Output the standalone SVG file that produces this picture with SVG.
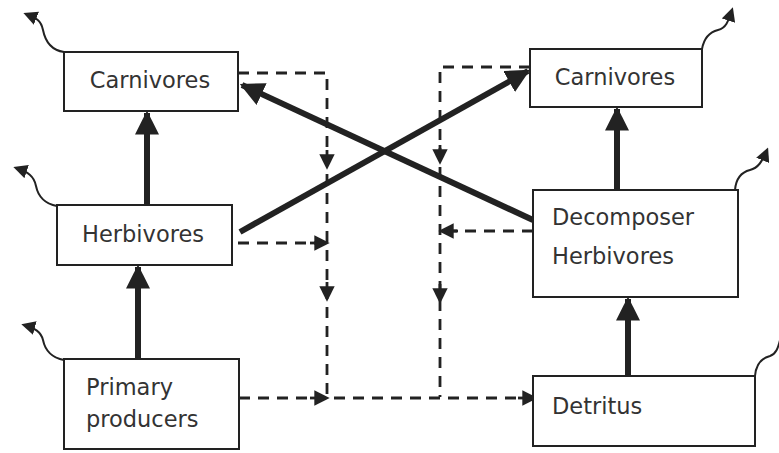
<svg xmlns="http://www.w3.org/2000/svg" width="779" height="453" viewBox="0 0 779 453">
<defs>
<marker id="big" viewBox="0 0 10 10" refX="9" refY="5" markerWidth="4" markerHeight="4" orient="auto" markerUnits="strokeWidth"><path d="M0,0 L10,5 L0,10 z" fill="#222"/></marker>
<marker id="dash" viewBox="0 0 10 10" refX="5" refY="5" markerWidth="5.5" markerHeight="5.5" orient="auto" markerUnits="strokeWidth"><path d="M0,0 L10,5 L0,10 z" fill="#222"/></marker>
<marker id="wave" viewBox="0 0 10 10" refX="8" refY="5" markerWidth="7" markerHeight="7" orient="auto" markerUnits="strokeWidth"><path d="M0,0 L10,5 L0,10 z" fill="#222"/></marker>
</defs>
<style>
.box{fill:#fff;stroke:#222;stroke-width:2}
text{font-family:"DejaVu Sans","Open Sans",sans-serif;font-size:22.5px;fill:#333}
.thick{stroke:#222;stroke-width:6;fill:none}
.dashed{stroke:#222;stroke-width:2.8;fill:none;stroke-dasharray:11,8}
.ah{stroke:#222;stroke-width:2.8}
.wv{stroke:#222;stroke-width:2;fill:none}
</style>
<rect width="779" height="453" fill="#fff"/>
<g id="connectors">
<line class="thick" x1="138" y1="359" x2="138" y2="267" marker-end="url(#big)"/>
<line class="thick" x1="147" y1="205" x2="147" y2="113" marker-end="url(#big)"/>
<line class="thick" x1="628" y1="376" x2="628" y2="299" marker-end="url(#big)"/>
<line class="thick" x1="617" y1="190" x2="617" y2="109" marker-end="url(#big)"/>
<line class="thick" x1="240" y1="232" x2="528" y2="71" marker-end="url(#big)"/>
<line class="thick" x1="533" y1="220" x2="242" y2="85" marker-end="url(#big)"/>
<path class="dashed" d="M238,73 H327 V397"/>
<path class="dashed" d="M238,243 H325"/>
<path class="dashed" d="M239,398 H533"/>
<path class="dashed" d="M530,67 H440 V397"/>
<path class="dashed" d="M533,231 H442"/>
<path class="ah" d="M327,150 L327,162" marker-end="url(#dash)"/>
<path class="ah" d="M327,282 L327,294" marker-end="url(#dash)"/>
<path class="ah" d="M440,145 L440,157" marker-end="url(#dash)"/>
<path class="ah" d="M440,284 L440,296" marker-end="url(#dash)"/>
<path class="ah" d="M310,243 L322,243" marker-end="url(#dash)"/>
<path class="ah" d="M310,398 L322,398" marker-end="url(#dash)"/>
<path class="ah" d="M518,398 L530,398" marker-end="url(#dash)"/>
<path class="ah" d="M458,231 L446,231" marker-end="url(#dash)"/>
</g>
<g id="carnivores-left">
<rect class="box" x="64" y="52" width="174" height="59"/>
<text x="150" y="88" text-anchor="middle">Carnivores</text>
<path class="wv" d="M64,52 C50,50 45,40 43,30 C41,20 36,18 26,14" marker-end="url(#wave)"/>
</g>
<g id="herbivores-left">
<rect class="box" x="57" y="205" width="175" height="60"/>
<text x="143" y="242" text-anchor="middle">Herbivores</text>
<path class="wv" d="M57,206 C45,204 38,196 36,186 C34,176 28,172 16,168" marker-end="url(#wave)"/>
</g>
<g id="primary-producers">
<rect class="box" x="64" y="359" width="175" height="90"/>
<text x="86" y="395">Primary</text>
<text x="86" y="427">producers</text>
<path class="wv" d="M64,360 C52,358 45,350 43,340 C41,332 35,328 24,325" marker-end="url(#wave)"/>
</g>
<g id="carnivores-right">
<rect class="box" x="530" y="49" width="172" height="58"/>
<text x="615" y="85" text-anchor="middle">Carnivores</text>
<path class="wv" d="M702,49 C704,38 710,32 718,30 C726,28 728,22 732,10" marker-end="url(#wave)"/>
</g>
<g id="decomposer-herbivores">
<rect class="box" x="533" y="190" width="205" height="107"/>
<text x="552" y="225">Decomposer</text>
<text x="552" y="264">Herbivores</text>
<path class="wv" d="M735,190 C736,178 742,172 750,170 C758,168 762,162 767,150" marker-end="url(#wave)"/>
</g>
<g id="detritus">
<rect class="box" x="533" y="376" width="222" height="70"/>
<text x="552" y="414">Detritus</text>
<path class="wv" d="M755,376 C756,364 762,358 770,356 C776,354 778,348 780,340"/>
</g>
</svg>
